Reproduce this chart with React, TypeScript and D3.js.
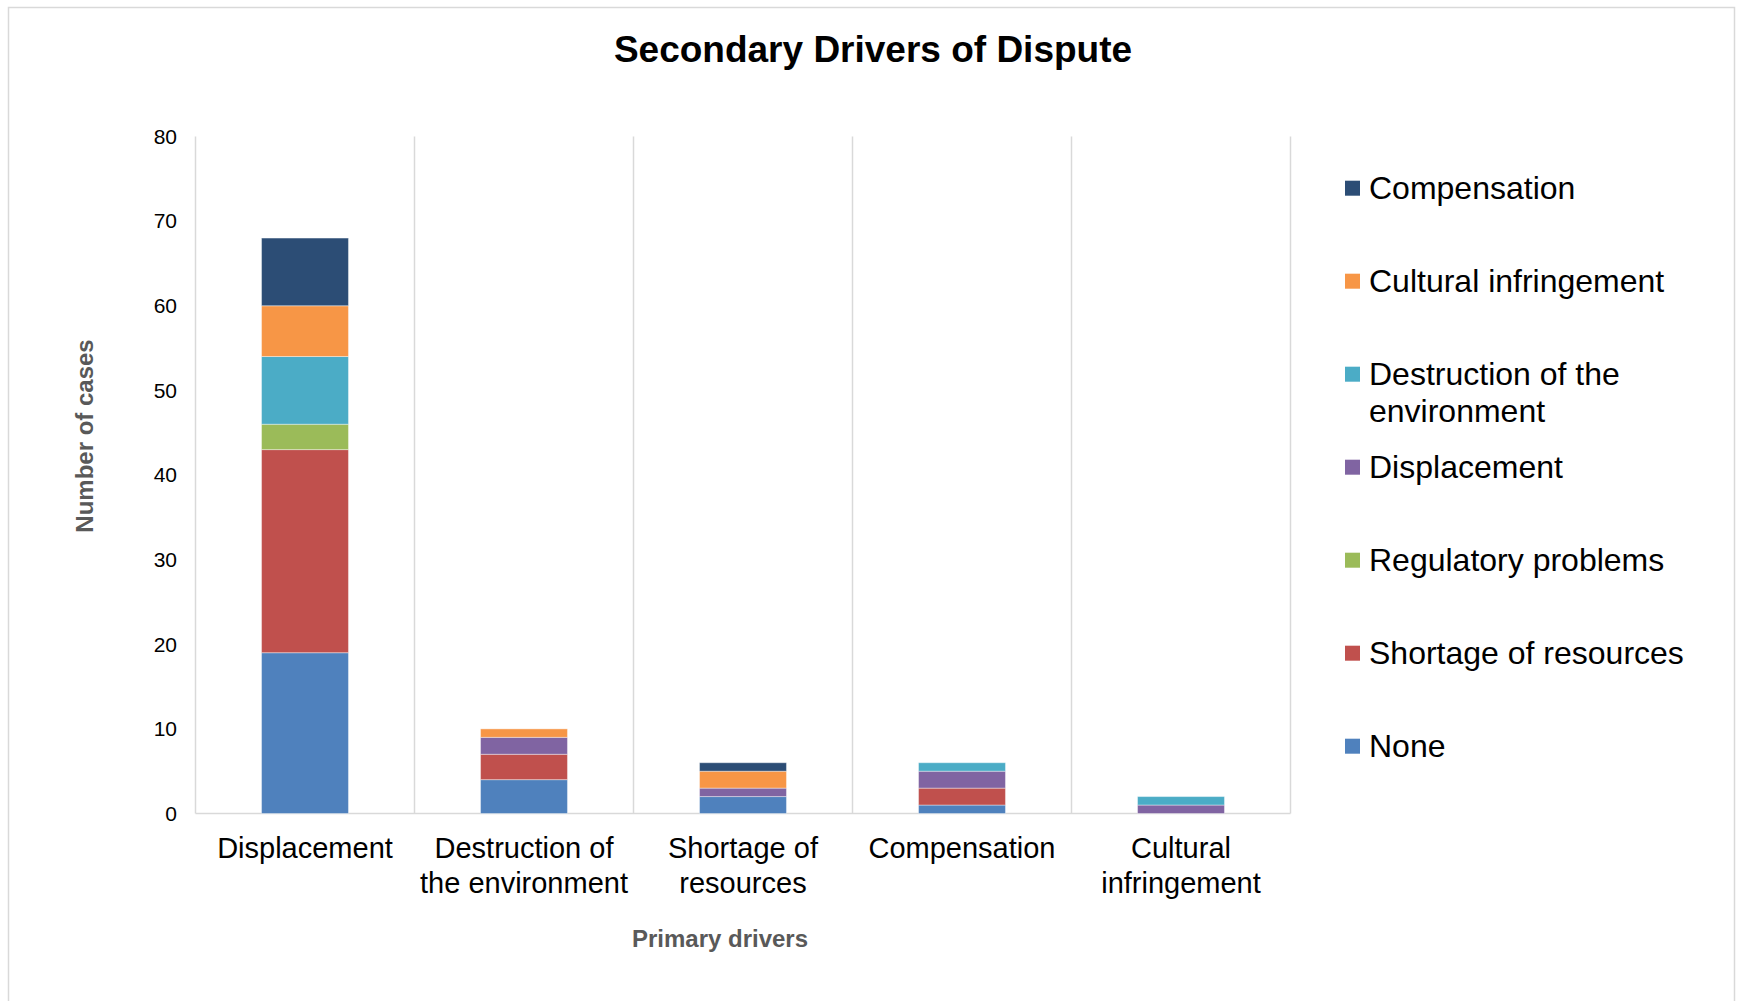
import React from "react";
import * as d3 from "d3";

const categories = [
  ["Displacement"],
  ["Destruction of", "the environment"],
  ["Shortage of", "resources"],
  ["Compensation"],
  ["Cultural", "infringement"],
];
const categoryKeys = ["Displacement", "Destruction of the environment", "Shortage of resources", "Compensation", "Cultural infringement"];

// secondary drivers (stack order bottom -> top)
const seriesNames = [
  "None",
  "Shortage of resources",
  "Regulatory problems",
  "Displacement",
  "Destruction of the environment",
  "Cultural infringement",
  "Compensation",
];
const noneValues = [19, 4, 2, 1, 0];
const shortageValues = [24, 3, 0, 2, 0];
const regulatoryValues = [3, 0, 0, 0, 0];
const displacementValues = [0, 2, 1, 2, 1];
const destructionValues = [8, 0, 0, 1, 1];
const culturalValues = [6, 1, 2, 0, 0];
const compensationValues = [8, 0, 1, 0, 0];
const seriesColors = ["#4f81bd", "#c0504d", "#9bbb59", "#8064a2", "#4bacc6", "#f79646", "#2c4d75"];
const yTicks = [0, 10, 20, 30, 40, 50, 60, 70, 80];

const legendLines: Record<string, string[]> = {
  "Destruction of the environment": ["Destruction of the", "environment"],
};

const FONT = "'Liberation Sans', Arial, Helvetica, sans-serif";

export default function App() {
  const W = 1741, H = 1001;
  const left = 195.5, right = 1290.5, bottom = 813.5, top = 136.5;
  const allValues = [noneValues, shortageValues, regulatoryValues, displacementValues, destructionValues, culturalValues, compensationValues];
  const table = categoryKeys.map((c, i) => {
    const row: Record<string, any> = { cat: c };
    seriesNames.forEach((s, j) => (row[s] = allValues[j][i]));
    return row;
  });
  const stacked = d3.stack().keys(seriesNames)(table as any);
  const x = d3.scaleBand<string>().domain(categoryKeys).range([left, right]).padding(0);
  const y = d3.scaleLinear().domain([0, 80]).range([bottom, top]);
  const barW = x.bandwidth() * 0.397;
  const grid = "#d9d9d9";

  const legendY0 = 187.7, legendStep = 93;
  const legendOrder = [...seriesNames].reverse();

  return (
    <svg width={W} height={H} style={{ position: "absolute", left: 0, top: 0, display: "block", background: "#fff" }} fontFamily={FONT}>
      <rect x={8.5} y={7.5} width={1726} height={1000} fill="#fff" stroke={grid} strokeWidth={1.5} />
      <text x={873} y={62} textAnchor="middle" fontSize={37} fontWeight="bold" fill="#000">Secondary Drivers of Dispute</text>

      {/* vertical gridlines */}
      {categoryKeys.map((c) => (
        <line key={c} x1={(x(c) as number) + x.bandwidth()} x2={(x(c) as number) + x.bandwidth()} y1={top} y2={bottom} stroke={grid} strokeWidth={1.5} />
      ))}
      <line x1={left} x2={left} y1={top} y2={bottom} stroke={grid} strokeWidth={1.5} />
      <line x1={left} x2={right} y1={bottom} y2={bottom} stroke={grid} strokeWidth={1.5} />

      {/* y ticks */}
      {yTicks.map((t) => (
        <text key={t} x={177} y={y(t)} dy="0.35em" textAnchor="end" fontSize={21} fill="#000">{t}</text>
      ))}

      {/* bars */}
      {stacked.map((layer, j) => (
        <g key={layer.key} fill={seriesColors[j]}>
          {layer.map((d, i) => {
            const h = y(d[0]) - y(d[1]);
            if (h <= 0) return null;
            const cx = (x(categoryKeys[i]) as number) + x.bandwidth() / 2;
            return (
              <rect key={i} x={cx - barW / 2} y={y(d[1])} width={barW} height={h} stroke="#ffffff" strokeOpacity={0.4} strokeWidth={1} />
            );
          })}
        </g>
      ))}

      {/* x labels */}
      {categories.map((lines, i) => {
        const cx = (x(categoryKeys[i]) as number) + x.bandwidth() / 2;
        return (
          <text key={i} x={cx} y={858} textAnchor="middle" fontSize={29} fill="#000">
            {lines.map((l, k) => (
              <tspan key={k} x={cx} dy={k === 0 ? 0 : 34.5}>{l}</tspan>
            ))}
          </text>
        );
      })}

      <text x={720} y={947} textAnchor="middle" fontSize={24} fontWeight="bold" fill="#595959">Primary drivers</text>
      <text transform={`translate(93,436) rotate(-90)`} textAnchor="middle" fontSize={24} fontWeight="bold" fill="#595959">Number of cases</text>

      {/* legend */}
      {legendOrder.map((name, k) => {
        const idx = seriesNames.indexOf(name);
        const cy = legendY0 + k * legendStep;
        const lines = legendLines[name] || [name];
        return (
          <g key={name}>
            <rect x={1345} y={cy - 7} width={15} height={15} fill={seriesColors[idx]} />
            <text x={1369} y={cy} fontSize={32} fill="#000">
              {lines.map((l, m) => (
                <tspan key={m} x={1369} dy={m === 0 ? "0.35em" : 37}>{l}</tspan>
              ))}
            </text>
          </g>
        );
      })}
    </svg>
  );
}
